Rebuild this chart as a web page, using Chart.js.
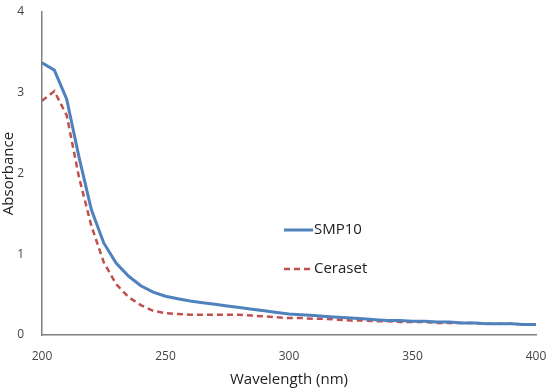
<!DOCTYPE html>
<html>
<head>
<meta charset="utf-8">
<script src="https://cdn.jsdelivr.net/npm/chart.js@4"></script>
<style>
html,body{margin:0;padding:0;background:#fff;}
#wrap{width:550px;height:389px;}
</style>
</head>
<body>
<div id="wrap"><canvas id="c" width="550" height="389"></canvas></div>
<script>
const wavelengths = [200,205,210,215,220,225,230,235,240,245,250,255,260,265,270,275,280,285,290,295,300,305,310,315,320,325,330,335,340,345,350,355,360,365,370,375,380,385,390,395,400];
const smp10 = [3.37,3.28,2.92,2.20,1.55,1.14,0.89,0.73,0.61,0.53,0.48,0.45,0.42,0.40,0.38,0.36,0.34,0.32,0.30,0.28,0.26,0.25,0.24,0.23,0.22,0.21,0.20,0.19,0.18,0.18,0.17,0.17,0.16,0.16,0.15,0.15,0.14,0.14,0.14,0.13,0.13];
const ceraset = [2.90,3.02,2.72,1.95,1.35,0.90,0.63,0.47,0.37,0.30,0.27,0.26,0.25,0.25,0.25,0.25,0.25,0.24,0.23,0.22,0.21,0.21,0.20,0.20,0.19,0.18,0.18,0.17,0.17,0.16,0.16,0.16,0.15,0.15,0.15,0.15,0.14,0.14,0.14,0.13,0.13];
const seriesNames = ['SMP10','Ceraset'];
const xTicks = [200,250,300,350,400];
const yTicks = [0,1,2,3,4];

const FONT = "'Open Sans', 'Liberation Sans', sans-serif";

const legendPlugin = {
  id: 'inlineLegend',
  afterDraw(chart) {
    const ctx = chart.ctx;
    const rows = [{y: 230}, {y: 269}];
    chart.data.datasets.forEach((ds, i) => {
      const y = rows[i].y;
      ctx.save();
      ctx.strokeStyle = ds.borderColor;
      ctx.lineWidth = ds.borderWidth;
      ctx.setLineDash(ds.borderDash || []);
      ctx.beginPath();
      ctx.moveTo(284, y);
      ctx.lineTo(313, y);
      ctx.stroke();
      ctx.setLineDash([]);
      ctx.fillStyle = '#222';
      ctx.font = "15px " + FONT;
      ctx.textBaseline = 'middle';
      ctx.textAlign = 'left';
      ctx.fillText(ds.label, 314, y);
      ctx.restore();
    });
  }
};

new Chart(document.getElementById('c'), {
  type: 'line',
  data: {
    datasets: [
      {
        label: seriesNames[0],
        data: wavelengths.map((w, i) => ({x: w, y: smp10[i]})),
        borderColor: '#4F81BD',
        borderWidth: 3,
        pointRadius: 0,
        tension: 0,
        fill: false
      },
      {
        label: seriesNames[1],
        data: wavelengths.map((w, i) => ({x: w, y: ceraset[i]})),
        borderColor: '#C0504D',
        borderWidth: 2.5,
        borderDash: [6, 4],
        pointRadius: 0,
        tension: 0,
        fill: false
      }
    ]
  },
  options: {
    responsive: false,
    animation: false,
    layout: {padding: {top: 12, right: 14, left: 0, bottom: 0}},
    plugins: {legend: {display: false}, tooltip: {enabled: false}},
    scales: {
      x: {
        type: 'linear',
        min: 200, max: 400,
        afterBuildTicks(scale) { scale.ticks = xTicks.map(v => ({value: v})); },
        afterFit(scale) { scale.height = 54; scale.paddingLeft = 0; scale.paddingRight = 0; },
        grid: {display: false},
        border: {display: true, color: '#7f7f7f', width: 1.5},
        ticks: {color: '#444', font: {family: FONT, size: 12}, padding: 6, maxRotation: 0},
        title: {display: true, text: 'Wavelength (nm)', color: '#222', font: {family: FONT, size: 15}, padding: {top: 2, bottom: 0}}
      },
      y: {
        min: 0, max: 4,
        afterBuildTicks(scale) { scale.ticks = yTicks.map(v => ({value: v})); },
        afterFit(scale) { scale.width = 42; scale.paddingTop = 0; scale.paddingBottom = 0; },
        grid: {display: false},
        border: {display: true, color: '#7f7f7f', width: 1.5},
        ticks: {color: '#444', font: {family: FONT, size: 12}, padding: 10},
        title: {display: true, text: 'Absorbance', color: '#222', font: {family: FONT, size: 15}, padding: {top: 0, bottom: 0}}
      }
    }
  },
  plugins: [legendPlugin]
});
</script>
</body>
</html>
